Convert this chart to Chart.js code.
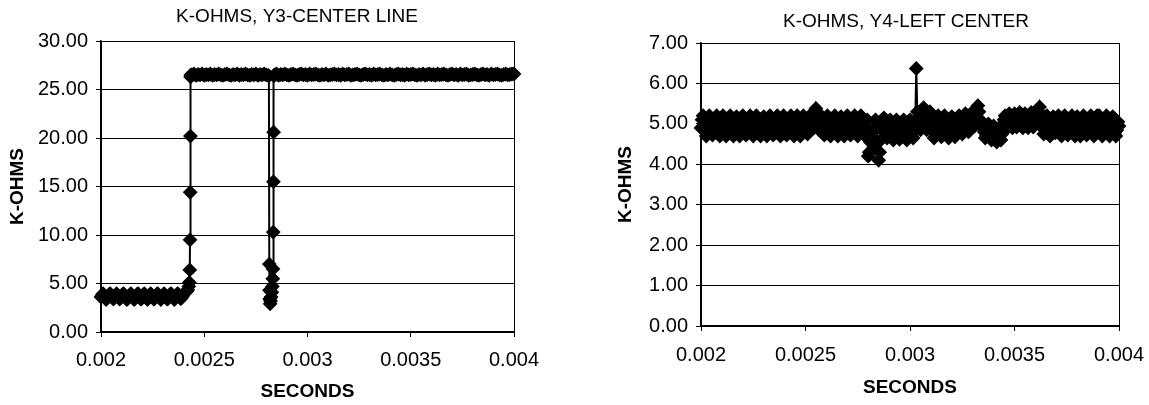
<!DOCTYPE html>
<html>
<head>
<meta charset="utf-8">
<script src="https://cdn.jsdelivr.net/npm/chart.js@4.4.1/dist/chart.umd.min.js"></script>
<style>
  html, body { margin: 0; padding: 0; background: #fff; overflow: hidden; }
  body { width: 1149px; height: 405px; position: relative; }
  canvas { position: absolute; top: 0; }
</style>
</head>
<body>
<canvas id="chartY3" width="594" height="405" style="left:0px"></canvas>
<canvas id="chartY4" width="624" height="405" style="left:594px"></canvas>
<script>
// sample spacings of the logged data (seconds)
var FINE = 0.000005;
var COARSE = 0.00001;

var xTicks = [0.002, 0.0025, 0.003, 0.0035, 0.004];
var xTickLabels = ['0.002', '0.0025', '0.003', '0.0035', '0.004'];
var y3Ticks = [0, 5, 10, 15, 20, 25, 30];
var y4Ticks = [0, 1, 2, 3, 4, 5, 6, 7];

// ---- Y3 center line ----
var y3LowStart = 0.002;   // FINE spacing
var y3Low = [
    3.6, 3.8, 3.95, 3.75, 3.5, 3.35, 3.5, 3.7, 3.9, 3.95, 3.75, 3.55, 3.4, 3.55, 3.75, 3.95, 3.85, 3.6, 3.4, 3.5,
    3.7, 3.9, 3.95, 3.7, 3.5, 3.35, 3.45, 3.65, 3.85, 3.95, 3.8, 3.55, 3.35, 3.45, 3.7, 3.9, 3.95, 3.7, 3.45, 3.4,
    3.6, 3.85, 3.95, 3.8, 3.55, 3.35, 3.5, 3.75, 3.95, 3.85, 3.6, 3.4, 3.45, 3.7, 3.9, 3.95, 3.75, 3.5, 3.35, 3.55,
    3.75, 3.95, 3.85, 3.6, 3.4, 3.45, 3.65, 3.9, 3.95, 3.75, 3.5, 3.35, 3.5, 3.75, 3.95, 3.9, 3.65, 3.45, 3.5, 3.7,
    3.9, 4.0, 4.1, 4.2, 4.35
];
var y3RiseT = [0.002425, 0.002428, 0.00243, 0.002431, 0.002432, 0.002433, 0.002434, 0.002435];
var y3RiseK = [4.7, 5.1, 6.4, 9.5, 14.4, 20.2, 26.3, 26.5];
var y3HighStart = 0.00244;   // COARSE spacing
var y3High = [
    26.5, 26.6, 26.45, 26.55, 26.5, 26.6, 26.45, 26.55, 26.5, 26.6,
    26.45, 26.55, 26.5, 26.6, 26.5, 26.45, 26.55, 26.6, 26.5, 26.45,
    26.55, 26.5, 26.6, 26.45, 26.55, 26.5, 26.6, 26.5, 26.45, 26.55,
    26.5, 26.6, 26.45, 26.55, 26.5, 26.6, 26.5, 26.45
];
var y3DipT = [0.002813, 0.002815, 0.002816, 0.002817, 0.002819, 0.002821, 0.002824, 0.002827,
              0.00283, 0.002832, 0.002833, 0.002834, 0.002835, 0.002836, 0.002837];
var y3DipK = [26.4, 7.0, 4.3, 3.4, 2.9, 3.2, 3.6, 4.1, 4.7, 5.5, 6.5, 10.3, 15.5, 20.6, 26.4];
var y3TailStart = 0.00284;   // COARSE spacing
var y3Tail = [
    26.5, 26.6, 26.45, 26.55, 26.5, 26.6, 26.5, 26.45, 26.55, 26.6,
    26.5, 26.45, 26.55, 26.6, 26.5, 26.55, 26.45, 26.6, 26.5, 26.55,
    26.6, 26.5, 26.45, 26.55, 26.5, 26.6, 26.45, 26.5, 26.55, 26.6,
    26.5, 26.55, 26.45, 26.6, 26.5, 26.55, 26.6, 26.45, 26.5, 26.55,
    26.6, 26.5, 26.45, 26.55, 26.6, 26.5, 26.55, 26.45, 26.6, 26.5,
    26.55, 26.6, 26.5, 26.45, 26.55, 26.5, 26.6, 26.5, 26.45, 26.55,
    26.6, 26.5, 26.55, 26.45, 26.6, 26.5, 26.55, 26.6, 26.5, 26.45,
    26.55, 26.5, 26.6, 26.45, 26.55, 26.6, 26.5, 26.55, 26.45, 26.6,
    26.5, 26.55, 26.6, 26.5, 26.45, 26.55, 26.6, 26.5, 26.55, 26.45,
    26.6, 26.5, 26.55, 26.6, 26.45, 26.5, 26.55, 26.6, 26.5, 26.45,
    26.55, 26.6, 26.5, 26.55, 26.45, 26.6, 26.5, 26.55, 26.6, 26.5,
    26.45, 26.55, 26.6, 26.5, 26.55, 26.6, 26.6
];

// ---- Y4 left center (FINE spacing, 20 samples per 0.0001 s) ----
var y4Start = 0.002;
var y4 = [
    4.9, 5.1, 5.2, 5.0, 4.8, 4.7, 4.85, 5.05, 5.2, 5.1, 4.9, 4.72, 4.8, 5.0, 5.15, 5.2, 4.95, 4.75, 4.7, 4.9,
    5.1, 5.2, 5.05, 4.85, 4.7, 4.75, 4.95, 5.15, 5.2, 5.0, 4.8, 4.7, 4.9, 5.1, 5.18, 5.0, 4.78, 4.7, 4.85, 5.05,
    5.2, 5.1, 4.9, 4.72, 4.75, 4.95, 5.12, 5.2, 5.05, 4.85, 4.7, 4.8, 5.0, 5.2, 5.15, 4.95, 4.75, 4.7, 4.9, 5.1,
    5.18, 5.0, 4.8, 4.7, 4.88, 5.08, 5.2, 5.1, 4.9, 4.72, 4.78, 4.98, 5.15, 5.2, 5.0, 4.8, 4.7, 4.85, 5.05, 5.2,
    5.1, 4.9, 4.72, 4.8, 5.0, 5.15, 5.2, 4.95, 4.75, 4.7, 4.9, 5.1, 5.2, 5.0, 4.8, 4.7, 4.85, 5.05, 5.2, 5.1,
    5.1, 4.9, 4.75, 4.8, 5.0, 5.15, 5.25, 5.1, 4.9, 5.05, 5.38, 5.2, 5.0, 4.85, 5.05, 5.2, 5.0, 4.8, 4.72, 4.9,
    5.1, 5.2, 5.05, 4.85, 4.7, 4.75, 4.95, 5.15, 5.2, 5.0, 4.8, 4.7, 4.9, 5.1, 5.18, 5.0, 4.78, 4.7, 4.85, 5.05,
    5.2, 5.1, 4.9, 4.72, 4.75, 4.95, 5.12, 5.2, 5.05, 4.85, 4.7, 4.8, 5.0, 5.2, 5.15, 4.95, 4.75, 4.7, 4.9, 5.1,
    4.2, 4.3, 4.55, 4.8, 4.35, 4.6, 4.9, 5.1, 4.95, 4.55, 4.1, 4.3, 4.6, 4.85, 5.05, 5.15, 4.95, 4.75, 4.65, 4.85,
    5.05, 5.1, 4.9, 4.7, 4.6, 4.75, 4.95, 5.1, 5.0, 4.8, 4.62, 4.68, 4.88, 5.05, 5.1, 4.92, 4.72, 4.6, 4.78, 4.98,
    5.1, 4.95, 4.75, 4.65, 4.8, 5.0, 6.37, 5.3, 5.15, 4.95, 4.85, 5.05, 5.25, 5.4, 5.2, 5.0, 4.85, 4.95, 5.15, 5.3,
    5.2, 5.0, 4.8, 4.65, 4.75, 4.95, 5.15, 5.2, 5.0, 4.8, 4.68, 4.85, 5.05, 5.2, 5.1, 4.9, 4.7, 4.65, 4.85, 5.05,
    5.18, 5.0, 4.8, 4.68, 4.8, 5.0, 5.15, 5.2, 5.0, 4.8, 4.75, 4.9, 5.1, 5.25, 5.15, 4.95, 4.8, 4.85, 5.05, 5.2,
    5.3, 5.1, 4.95, 5.1, 5.3, 5.45, 5.3, 5.1, 4.95, 5.05, 5.0, 4.8, 4.65, 4.7, 4.9, 5.0, 4.85, 4.65, 4.6, 4.8,
    4.95, 4.8, 4.6, 4.55, 4.7, 4.9, 4.8, 4.6, 4.75, 4.95, 5.1, 5.2, 5.0, 4.9, 5.05, 5.25, 5.15, 4.95, 4.9, 5.1,
    5.25, 5.1, 4.92, 4.95, 5.15, 5.28, 5.15, 4.95, 4.9, 5.05, 5.25, 5.2, 5.0, 4.9, 5.0, 5.2, 5.28, 5.1, 4.92, 5.0,
    5.2, 5.3, 5.15, 5.05, 5.42, 5.25, 5.05, 4.9, 4.75, 4.9, 5.1, 5.2, 5.0, 4.8, 4.7, 4.85, 5.05, 5.18, 5.0, 4.78,
    4.9, 5.1, 5.2, 5.0, 4.8, 4.7, 4.85, 5.05, 5.2, 5.1, 4.9, 4.72, 4.8, 5.0, 5.15, 5.2, 4.95, 4.75, 4.7, 4.9,
    5.18, 5.0, 4.8, 4.7, 4.88, 5.08, 5.2, 5.1, 4.9, 4.72, 4.78, 4.98, 5.15, 5.2, 5.0, 4.8, 4.7, 4.85, 5.05, 5.2,
    5.1, 5.2, 5.05, 4.85, 4.7, 4.75, 4.95, 5.15, 5.2, 5.0, 4.8, 4.7, 4.9, 5.1, 5.18, 5.0, 4.78, 4.7, 4.85, 5.05,
    4.95
];

function run(t0, step, vals) {
    return vals.map((v, i) => ({ x: t0 + i * step, y: v }));
}
function pairs(ts, vals) {
    return ts.map((t, i) => ({ x: t, y: vals[i] }));
}

var y3Points = [].concat(
    run(y3LowStart, FINE, y3Low),
    pairs(y3RiseT, y3RiseK),
    run(y3HighStart, COARSE, y3High),
    pairs(y3DipT, y3DipK),
    run(y3TailStart, COARSE, y3Tail)
);
var y4Points = run(y4Start, FINE, y4);

var FONT = '"Liberation Sans", Arial, sans-serif';

// frame round the plot area, title centred on the whole canvas
var boxPlugin = {
    id: 'plotBox',
    afterLayout: function (chart) {
        chart.titleBlock.left = 0;
        chart.titleBlock.right = chart.width;
    },
    beforeDatasetsDraw: function (chart) {
        var a = chart.chartArea, ctx = chart.ctx;
        ctx.save();
        ctx.strokeStyle = '#000';
        ctx.lineWidth = 1;
        ctx.strokeRect(Math.round(a.left) + 0.5, Math.round(a.top) + 0.5,
            Math.round(a.right - a.left), Math.round(a.bottom - a.top));
        ctx.restore();
    }
};

function makeChart(id, title, points, yTicks, yMax, o) {
    var ctx = document.getElementById(id).getContext('2d');
    return new Chart(ctx, {
        type: 'line',
        data: {
            datasets: [{
                data: points,
                borderColor: '#000',
                borderWidth: 2,
                backgroundColor: '#000',
                pointStyle: 'rectRot',
                pointRadius: 6,
                pointBorderWidth: 2,
                pointBorderColor: '#000',
                pointBackgroundColor: '#000',
                tension: 0,
                clip: false
            }]
        },
        options: {
            responsive: false,
            animation: false,
            devicePixelRatio: 1,
            layout: { padding: { left: 0, right: o.padRight, top: 0, bottom: 0 } },
            plugins: {
                legend: { display: false },
                tooltip: { enabled: false },
                title: {
                    display: true,
                    text: title,
                    color: '#000',
                    font: { family: FONT, size: 19, weight: 'normal' },
                    padding: { top: o.titleTop, bottom: o.titleBottom }
                }
            },
            scales: {
                x: {
                    type: 'linear',
                    min: 0.002,
                    max: 0.004,
                    afterBuildTicks: function (s) { s.ticks = xTicks.map(v => ({ value: v })); },
                    afterFit: function (s) { s.height = o.xHeight; },
                    ticks: {
                        color: '#000',
                        font: { family: FONT, size: 20 },
                        padding: o.xLabelPad,
                        maxRotation: 0,
                        callback: function (v, i) { return xTickLabels[i]; }
                    },
                    grid: { display: true, drawOnChartArea: false, drawTicks: true, tickLength: 5, color: '#000' },
                    border: { display: true, color: '#000', width: 1.5 },
                    title: {
                        display: true,
                        text: 'SECONDS',
                        color: '#000',
                        font: { family: FONT, size: 19, weight: 'bold' },
                        padding: { top: 0, bottom: o.xTitlePad }
                    }
                },
                y: {
                    min: 0,
                    max: yMax,
                    afterBuildTicks: function (s) { s.ticks = yTicks.map(v => ({ value: v })); },
                    afterFit: function (s) { s.width = o.yWidth; },
                    ticks: {
                        color: '#000',
                        font: { family: FONT, size: 20 },
                        padding: 8,
                        callback: function (v) { return v.toFixed(2); }
                    },
                    grid: { color: '#000', lineWidth: 1, tickLength: 5 },
                    border: { display: true, color: '#000', width: 1.5 },
                    title: {
                        display: true,
                        text: 'K-OHMS',
                        color: '#000',
                        font: { family: FONT, size: 19, weight: 'bold' },
                        padding: { top: o.yTitlePad, bottom: 0 }
                    }
                }
            }
        },
        plugins: [boxPlugin]
    });
}

makeChart('chartY3', 'K-OHMS, Y3-CENTER LINE', y3Points, y3Ticks, 30, {
    padRight: 80, titleTop: 5.6, titleBottom: 12.6, xHeight: 73, xLabelPad: 11,
    xTitlePad: 1.6, yWidth: 101, yTitlePad: 6.6
});
makeChart('chartY4', 'K-OHMS, Y4-LEFT CENTER', y4Points, y4Ticks, 7, {
    padRight: 99, titleTop: 10.6, titleBottom: 9.6, xHeight: 79, xLabelPad: 12,
    xTitlePad: 5.6, yWidth: 107, yTitlePad: 20.6
});
</script>
</body>
</html>
